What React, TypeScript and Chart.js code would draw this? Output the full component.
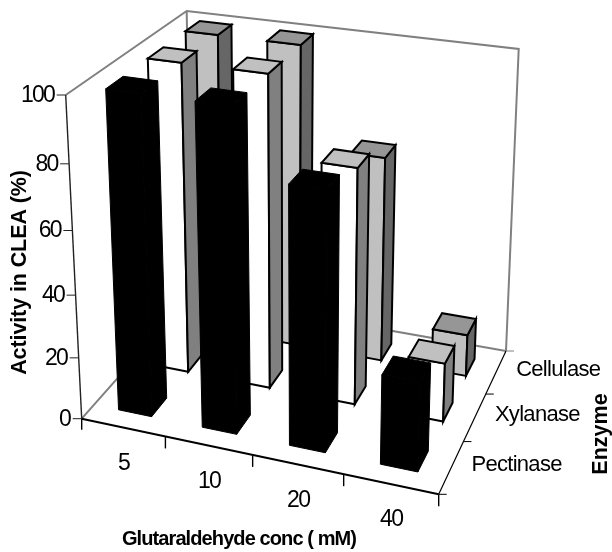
import React, { useEffect, useRef } from "react";
import { Chart, registerables } from "chart.js";

Chart.register(...registerables);

const concentrations = ["5", "10", "20", "40"];
const enzymes = ["Pectinase", "Xylanase", "Cellulase"];
const pectinase = [100, 100, 80, 28];
const xylanase = [100, 100, 75.5, 19];
const cellulase = [100, 100, 68, 14];
const yTicksStep = 20;

type P = [number, number];
// Corners of the 3D box on the page (perspective view set-up)
const floorFL: P = [81.7, 418.7], floorFR: P = [438.7, 494.3], floorBR: P = [506, 351], floorBL: P = [191, 295.4];
const topFL: P = [65.7, 95], topFR: P = [448.6, 148], topBR: P = [518.7, 49], topBL: P = [186.7, 11];
const vertical = 1.08;

function homography(p0: P, p1: P, p2: P, p3: P) {
  const dx1 = p1[0] - p2[0], dx2 = p3[0] - p2[0], sx = p0[0] - p1[0] + p2[0] - p3[0];
  const dy1 = p1[1] - p2[1], dy2 = p3[1] - p2[1], sy = p0[1] - p1[1] + p2[1] - p3[1];
  const den = dx1 * dy2 - dx2 * dy1;
  const g = (sx * dy2 - dx2 * sy) / den, h = (dx1 * sy - sx * dy1) / den;
  const a = p1[0] - p0[0] + g * p1[0], b = p3[0] - p0[0] + h * p3[0];
  const d = p1[1] - p0[1] + g * p1[1], e = p3[1] - p0[1] + h * p3[1];
  return (u: number, v: number): P => {
    const w = g * u + h * v + 1;
    return [(a * u + b * v + p0[0]) / w, (d * u + e * v + p0[1]) / w];
  };
}
const floorH = homography(floorFL, floorFR, floorBR, floorBL);
const topH = homography(topFL, topFR, topBR, topBL);
function project(u: number, z: number, t: number): P {
  const a = floorH(u, z), b = topH(u, z);
  const s = t / (t + (1 - t) * vertical);
  return [a[0] + (b[0] - a[0]) * s, a[1] + (b[1] - a[1]) * s];
}

const faces = [
  { front: "#000000", top: "#000000", side: "#000000", line: 1 },
  { front: "#ffffff", top: "#c0c0c0", side: "#808080", line: 2 },
  { front: "#c0c0c0", top: "#969696", side: "#666666", line: 2 },
];

function poly(ctx: CanvasRenderingContext2D, pts: P[], fill: string | null, stroke: string, lw: number) {
  ctx.beginPath();
  pts.forEach((p, i) => (i ? ctx.lineTo(p[0], p[1]) : ctx.moveTo(p[0], p[1])));
  if (fill) {
    ctx.closePath();
    ctx.fillStyle = fill;
    ctx.fill();
  }
  ctx.strokeStyle = stroke;
  ctx.lineWidth = lw;
  ctx.lineJoin = "miter";
  ctx.stroke();
}

function label(ctx: CanvasRenderingContext2D, s: string, x: number, y: number, font: string, spacing: number, align: CanvasTextAlign, rot = 0) {
  ctx.save();
  ctx.translate(x, y);
  ctx.rotate(rot);
  ctx.font = font;
  (ctx as any).letterSpacing = spacing + "px";
  ctx.fillStyle = "#000000";
  ctx.textAlign = align;
  ctx.textBaseline = "middle";
  ctx.fillText(s, 0, 0);
  ctx.restore();
}

const FONT = '"Liberation Sans"';

const box3d = {
  id: "box3d",
  beforeDatasetsDraw(chart: any) {
    const ctx: CanvasRenderingContext2D = chart.ctx;
    const area = chart.chartArea;
    const W = area.right - area.left, H = area.bottom - area.top;
    const yScale = chart.scales.y, xScale = chart.scales.x;
    const nz = chart.data.datasets.length;
    const gray = "#808080", dark = "#000000";
    const vT = (v: number) => (area.bottom - yScale.getPixelForValue(v)) / H;

    // back walls and floor edges
    poly(ctx, [floorFL, floorBL, floorBR], null, gray, 2);
    poly(ctx, [topFL, topBL, topBR, floorBR], null, gray, 2);
    poly(ctx, [topBL, floorBL], null, gray, 2);

    // bars, far rows first and right to left
    for (let z = nz - 1; z >= 0; z--) {
      const meta = chart.getDatasetMeta(z);
      const f = faces[z];
      for (let i = meta.data.length - 1; i >= 0; i--) {
        const el = meta.data[i];
        const x0 = (el.x - el.width / 2 - area.left) / W, x1 = (el.x + el.width / 2 - area.left) / W;
        const z0 = (z + 0.3) / nz, z1 = (z + 0.7) / nz;
        const t = (area.bottom - el.y) / H;
        const a = project(x0, z0, 0), b = project(x1, z0, 0), c = project(x1, z1, 0);
        const A = project(x0, z0, t), B = project(x1, z0, t), C = project(x1, z1, t), D = project(x0, z1, t);
        poly(ctx, [a, b, B, A], f.front, dark, f.line);
        poly(ctx, [b, c, C, B], f.side, dark, f.line);
        poly(ctx, [A, B, C, D], f.top, dark, f.line);
      }
    }

    // value axis
    poly(ctx, [topFL, floorFL], null, "#222222", 1.4);
    for (const tick of yScale.ticks) {
      const p = project(0, 0, vT(tick.value));
      poly(ctx, [p, [p[0] - 9, p[1]]], null, "#222222", 1);
      label(ctx, String(tick.label), p[0] - 11.5, p[1] + 0.5, `23px ${FONT}`, -1.7, "right");
    }
    // category axis
    poly(ctx, [floorFL, floorFR], null, dark, 2);
    poly(ctx, [floorFL, [floorFL[0], floorFL[1] + 11]], null, dark, 1.4);
    const n = concentrations.length;
    for (let i = 1; i <= n; i++) {
      const p = floorH(i / n, 0);
      poly(ctx, [p, [p[0], p[1] + 12]], null, dark, 1.4);
    }
    chart.data.labels.forEach((s: string, i: number) => {
      const p = floorH((xScale.getPixelForValue(i) - area.left) / W, 0);
      label(ctx, s, p[0] + 0.5, p[1] + 36, `23px ${FONT}`, -1.7, "center");
    });
    // depth axis
    poly(ctx, [floorFR, floorBR], null, dark, 1.2);
    for (let k = 0; k <= nz; k++) {
      const p = floorH(1, k / nz);
      poly(ctx, [p, [p[0] + 8, p[1]]], null, k === nz ? gray : dark, 1);
    }
    chart.data.datasets.forEach((ds: any, k: number) => {
      const p = floorH(1, (k + 0.5) / nz);
      label(ctx, ds.label, p[0] + 20, p[1] - 2, `22px ${FONT}`, -0.7, "left");
    });

    // axis titles
    label(ctx, "Activity in CLEA (%)", 20, 272.5, `bold 21.5px ${FONT}`, -0.1, "center", -Math.PI / 2);
    label(ctx, "Glutaraldehyde conc ( mM)", 239, 539, `bold 20px ${FONT}`, -0.9, "center");
    label(ctx, "Enzyme", 601, 434, `bold 21.5px ${FONT}`, 0, "center", -Math.PI / 2);
    return false;
  },
};

export default function App() {
  const ref = useRef<HTMLCanvasElement>(null);
  useEffect(() => {
    const chart = new Chart(ref.current!, {
      type: "bar",
      data: {
        labels: concentrations,
        datasets: [
          { label: enzymes[0], data: pectinase },
          { label: enzymes[1], data: xylanase },
          { label: enzymes[2], data: cellulase },
        ],
      },
      options: {
        responsive: false,
        animation: false,
        devicePixelRatio: 1,
        datasets: { bar: { grouped: false, categoryPercentage: 0.4, barPercentage: 1 } },
        layout: { padding: 0 },
        plugins: { legend: { display: false }, title: { display: false }, tooltip: { enabled: false } },
        scales: {
          x: { display: false, type: "category" },
          y: { display: false, min: 0, max: 100, ticks: { stepSize: yTicksStep } },
        },
      },
      plugins: [box3d],
    } as any);
    return () => chart.destroy();
  }, []);
  return <canvas ref={ref} width={612} height={552} style={{ position: "absolute", left: 0, top: 0, width: 612, height: 552 }} />;
}
